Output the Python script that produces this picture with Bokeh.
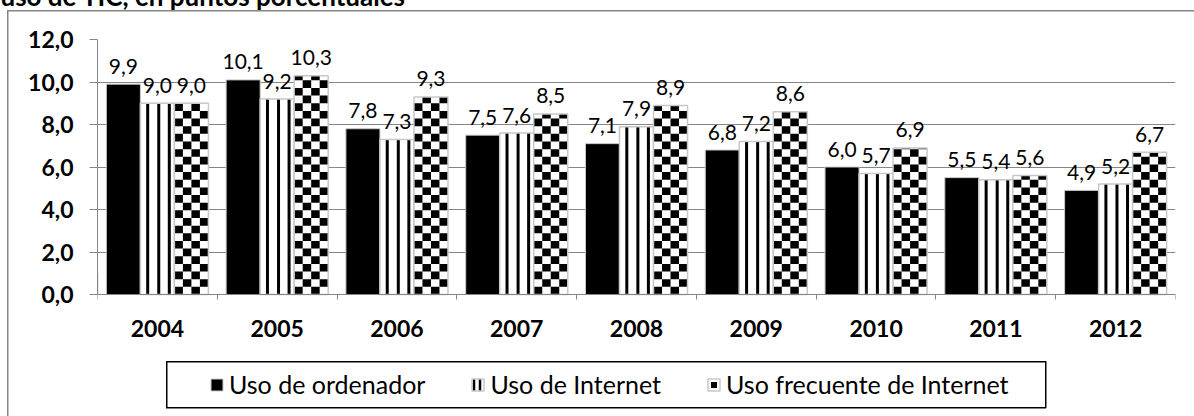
import math
from bokeh.plotting import figure
from bokeh.models import (Range1d, FixedTicker, Legend, LegendItem, Title, ColumnDataSource)
from bokeh.core.properties import value
from bokeh.embed import file_html
from bokeh.resources import INLINE

# ---------------- data ----------------
years = ["2004", "2005", "2006", "2007", "2008", "2009", "2010", "2011", "2012"]
uso_ordenador = [9.9, 10.1, 7.8, 7.5, 7.1, 6.8, 6.0, 5.5, 4.9]
uso_internet = [9.0, 9.2, 7.3, 7.6, 7.9, 7.2, 5.7, 5.4, 5.2]
uso_frecuente = [9.0, 10.3, 9.3, 8.5, 8.9, 8.6, 6.9, 5.6, 6.7]
y_ticks = [0, 2, 4, 6, 8, 10, 12]
series_names = ["Uso de ordenador", "Uso de Internet", "Uso frecuente de Internet"]
title_text = "uso de TIC, en puntos porcentuales"

FONT = "Lato"
GRAY = "#868686"
BAR_LINE = "#c8c8c8"
D = 50      # canvas starts D px above the page top (title cut like the source)
B = 60      # canvas continues B px below the page bottom (room for the x-axis panel)
TOP, ZERO, BOTTOM = 39, 294, 414   # page y of value 12, value 0 and the (extended) frame bottom

def fmt(v):
    return f"{v:.1f}".replace(".", ",")

centers = [i + 0.5 for i in range(len(years))]
bw = 0.284
offsets = [-bw, 0.0, bw]
y_max = y_ticks[-1]
y_min = -(BOTTOM - ZERO) / (ZERO - TOP) * y_max   # frame extends below 0 to host the legend

p = figure(width=1194, height=416 + D + B, output_backend="svg", toolbar_location=None,
           x_range=Range1d(0, len(years)), y_range=Range1d(y_min, y_max),
           min_border_left=97, min_border_right=19, min_border_top=TOP + D,
           min_border_bottom=416 + B - BOTTOM)

def hline(x, y, w, c):
    return f"linear-gradient({c},{c}) {x}px {y + D}px / {w}px 1.5px no-repeat"

def vline(x, y, h, c):
    return f"linear-gradient({c},{c}) {x}px {y + D}px / 1.5px {h}px no-repeat"

# outer chart frame (left + top) and legend frame as CSS lines behind the transparent canvas
p.styles = {"margin-top": f"-{D}px", "margin-bottom": f"-{B}px", "background": ", ".join([
    vline(7, 10, 600, GRAY), hline(7, 10, 1300, GRAY),
    hline(166, 361, 880, "#000"), hline(166, 406.5, 880, "#000"),
    vline(166, 361, 47, "#000"), vline(1044.5, 361, 47, "#000"),
]) + ", white"}
p.outline_line_color = None
p.background_fill_alpha = 0
p.border_fill_alpha = 0

p.title = Title(text=title_text, align="left", offset=-97, standoff=55, vertical_align="bottom",
                text_font=FONT, text_font_style="bold", text_font_size="26px", text_color="black")

# ---------------- axes ----------------
p.yaxis.ticker = FixedTicker(ticks=y_ticks)
p.yaxis.bounds = (y_ticks[0], y_ticks[-1])
p.yaxis.major_label_overrides = {t: fmt(t) for t in y_ticks}
p.yaxis.axis_line_color = GRAY
p.yaxis.major_tick_line_color = GRAY
p.yaxis.major_tick_in = 0
p.yaxis.major_tick_out = 8
p.yaxis.minor_tick_line_color = None
p.yaxis.major_label_standoff = 16
p.yaxis.major_label_text_font = FONT
p.yaxis.major_label_text_font_style = "bold"
p.yaxis.major_label_text_font_size = "23px"
p.yaxis.major_label_text_color = "black"

p.xaxis.fixed_location = 0
p.xaxis.ticker = FixedTicker(ticks=centers, minor_ticks=list(range(len(years) + 1)))
p.xaxis.major_label_overrides = {c: y for c, y in zip(centers, years)}
p.xaxis.axis_line_color = GRAY
p.xaxis.major_tick_line_color = None
p.xaxis.minor_tick_line_color = GRAY
p.xaxis.minor_tick_in = 0
p.xaxis.minor_tick_out = 5
p.xaxis.major_label_standoff = 19
p.xaxis.major_label_text_font = FONT
p.xaxis.major_label_text_font_style = "bold"
p.xaxis.major_label_text_font_size = "23px"
p.xaxis.major_label_text_color = "black"

p.xgrid.grid_line_color = None
p.ygrid.ticker = FixedTicker(ticks=y_ticks)
p.ygrid.grid_line_color = GRAY
p.ygrid.grid_line_width = 1

# ---------------- bars ----------------
x0 = [c + offsets[0] for c in centers]
x1 = [c + offsets[1] for c in centers]
x2 = [c + offsets[2] for c in centers]

r_ord = p.vbar(x=x0, top=uso_ordenador, width=bw, fill_color="black", line_color=BAR_LINE, line_width=1)

# Uso de Internet: white bars with vertical stripes
p.vbar(x=x1, top=uso_internet, width=bw, fill_color="white", line_color=None)
stripe_fracs = [0.215, 0.54, 0.85]
stripe_w = 0.088 * bw
sl, sr, st = [], [], []
for xc, v in zip(x1, uso_internet):
    left = xc - bw / 2
    for f in stripe_fracs:
        sl.append(left + f * bw - stripe_w / 2)
        sr.append(left + f * bw + stripe_w / 2)
        st.append(v)
p.quad(left=sl, right=sr, top=st, bottom=0, fill_color="black", line_color=None)
p.vbar(x=x1, top=uso_internet, width=bw, fill_alpha=0, line_color=BAR_LINE, line_width=1.5)

# Uso frecuente de Internet: checkerboard bars
p.vbar(x=x2, top=uso_frecuente, width=bw, fill_color="white", line_color=None)
ncol = 4
cell_h = 0.36
cl, cr, cb, ct = [], [], [], []
for xc, v in zip(x2, uso_frecuente):
    left = xc - bw / 2
    cw = bw / ncol
    nrows = int(math.ceil(v / cell_h))
    for r in range(nrows):
        for c in range(ncol):
            if (r + c) % 2 == 0:
                cl.append(left + c * cw)
                cr.append(left + (c + 1) * cw)
                cb.append(r * cell_h)
                ct.append(min((r + 1) * cell_h, v))
p.quad(left=cl, right=cr, bottom=cb, top=ct, fill_color="black", line_color=None)
p.vbar(x=x2, top=uso_frecuente, width=bw, fill_alpha=0, line_color=BAR_LINE, line_width=1.5)

# ---------------- data labels ----------------
for xs, vals in [(x0, uso_ordenador), (x1, uso_internet), (x2, uso_frecuente)]:
    src = ColumnDataSource(dict(x=xs, y=vals, t=[fmt(v) for v in vals]))
    p.text(x="x", y="y", text="t", source=src, text_align="center", text_baseline="alphabetic",
           y_offset=-18, text_font=value(FONT), text_font_size="21px", text_color="black")

# ---------------- legend (swatch renderers sit outside the visible x range) ----------------
leg_int = p.vbar(x=[-5], top=[1], width=bw, fill_color="white", line_color=BAR_LINE, line_width=1.5,
                 hatch_pattern="vertical_line", hatch_scale=6, hatch_weight=2.5, hatch_color="black")
leg_frec_box = p.vbar(x=[-5], top=[1], width=bw, fill_color="white", line_color=BAR_LINE, line_width=1.5)
leg_frec_sq = p.scatter(x=[-5], y=[1], marker="square", size=8, fill_color="black", line_color=None)

legend = Legend(items=[
    LegendItem(label=series_names[0], renderers=[r_ord]),
    LegendItem(label=series_names[1], renderers=[leg_int]),
    LegendItem(label=series_names[2], renderers=[leg_frec_box, leg_frec_sq]),
], orientation="horizontal", location=(112, 15), border_line_color=None,
   background_fill_alpha=0, padding=9, spacing=45, label_standoff=5,
   glyph_width=15, glyph_height=15, label_text_font=FONT, label_text_font_size="25px",
   label_text_color="black", margin=0)
p.add_layout(legend, "center")

open("out.html", "w").write(file_html(p, INLINE))
